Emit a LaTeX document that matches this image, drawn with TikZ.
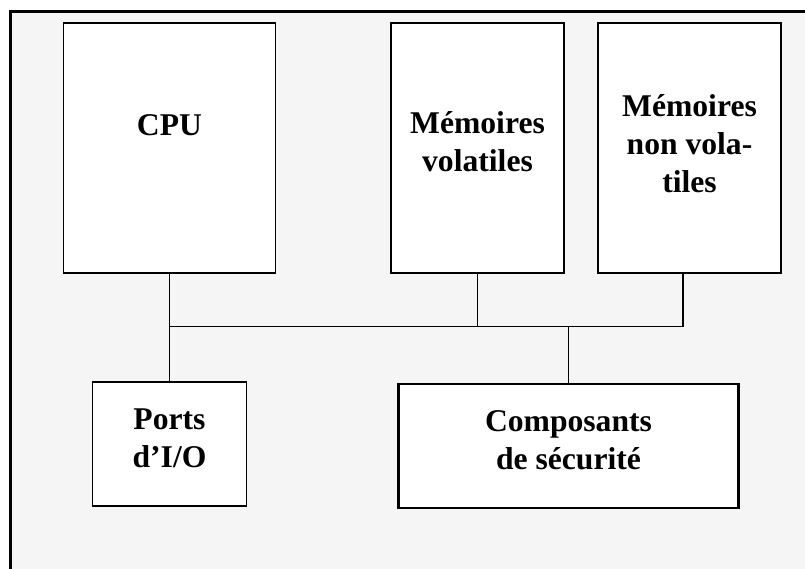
\documentclass[tikz,border=0pt]{standalone}
\usepackage{fontspec}
\setmainfont{Liberation Serif}
\usepackage{tikz}
\usetikzlibrary{shapes.geometric, arrows}
\definecolor{fond}{RGB}{245,245,245}
\tikzstyle{bloc} = [rectangle, minimum height=5cm, inner sep=0pt, draw=black, line width=0.6pt, fill=white]
\tikzstyle{petitbloc} = [rectangle, minimum height=2.48cm, inner sep=0pt, draw=black, line width=0.6pt, fill=white]
\tikzstyle{titre} = [align=center, inner sep=0pt, font=\fontsize{18}{21.6}\selectfont\bfseries]
\tikzstyle{liaison} = [line width=0.6pt]

\begin{document}
\begin{tikzpicture}[node distance=2cm]
\useasboundingbox (0,0) rectangle (16.1,-11.38);
\draw [line width=1.2pt, fill=fond] (0.21,-0.23) rectangle (16.3,-11.5);

\node (cpu) [bloc, minimum width=4.24cm] at (3.39,-2.96) {};
\node (ram) [bloc, minimum width=3.46cm, right of=cpu, xshift=4.16cm] {};
\node (rom) [bloc, minimum width=3.66cm, right of=ram, xshift=2.24cm] {};
\node (io) [petitbloc, minimum width=3.08cm, below of=cpu, yshift=-3.92cm] {};
\node (secu) [petitbloc, minimum width=6.8cm, right of=io, xshift=5.98cm, yshift=-0.04cm, line width=1.2pt] {};

% base = derniere ligne
\node (cputxt) [titre, anchor=base] at ([yshift=-2.26cm]cpu.north) {CPU};
\node (ramtxt) [titre, anchor=base] at ([yshift=-2.98cm]ram.north) {Mémoires\\volatiles};
\node (romtxt) [titre, anchor=base] at ([yshift=-3.4cm]rom.north) {Mémoires\\non vola-\\tiles};
\node (iotxt) [titre, anchor=base] at ([yshift=-1.72cm]io.north) {Ports\\d’I/O};
\node (secutxt) [titre, anchor=base] at ([yshift=-1.74cm]secu.north) {Composants\\de sécurité};

\coordinate (bus) at ([yshift=-1.06cm]cpu.south);
\draw [liaison] (cpu.south) -- (io.north);
\draw [liaison] (bus) -| ([xshift=-0.13cm]rom.south);
\draw [liaison] (ram.south) -- (ram.south |- bus);
\draw [liaison] (secu.north) -- (secu.north |- bus);
\end{tikzpicture}
\end{document}
